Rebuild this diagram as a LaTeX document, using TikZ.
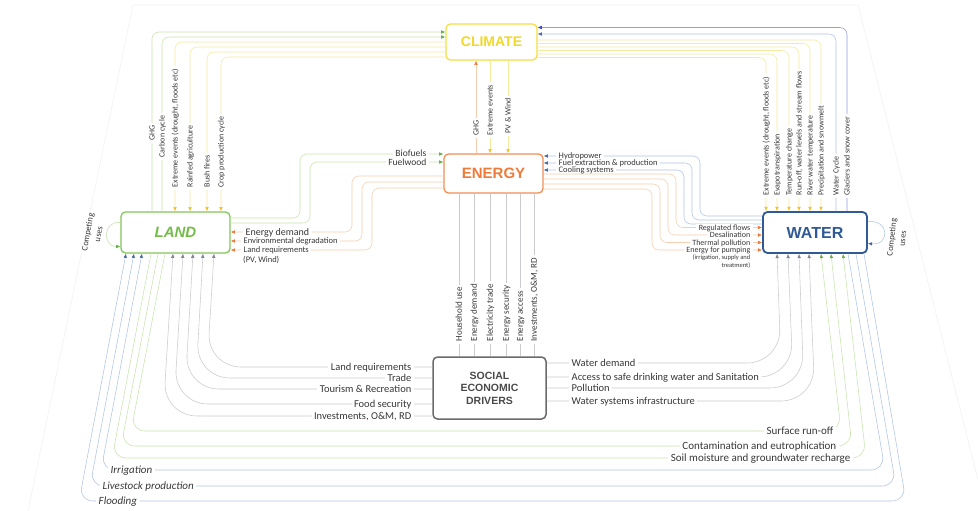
\documentclass[tikz,border=0pt]{standalone}
\usepackage{fontspec}
\setmainfont{Carlito}
\newfontfamily\boxfont{Liberation Sans}
\usetikzlibrary{arrows.meta,calc}
\definecolor{lineY}{HTML}{F5EBA0}
\definecolor{tipY}{HTML}{F6C21C}
\definecolor{lineO}{HTML}{F6CDAE}
\definecolor{tipO}{HTML}{F0783A}
\definecolor{lineB}{HTML}{B0C6E4}
\definecolor{tipB}{HTML}{45689F}
\definecolor{lineG}{HTML}{C8E4AE}
\definecolor{tipG}{HTML}{63B043}
\definecolor{lineK}{HTML}{CBCBCF}
\definecolor{tipK}{HTML}{7A8190}
\definecolor{lineV}{HTML}{959BE4}
\definecolor{tipV}{HTML}{2E3CCB}
\definecolor{climC}{HTML}{F3DF45}
\definecolor{climT}{HTML}{F1D82A}
\definecolor{enC}{HTML}{F08E55}
\definecolor{enT}{HTML}{EE7B3A}
\definecolor{landC}{HTML}{84C65A}
\definecolor{landT}{HTML}{74BC48}
\definecolor{waterC}{HTML}{2F5A96}
\definecolor{socC}{HTML}{6A6A6A}
\definecolor{socT}{HTML}{4A4A4A}
\definecolor{txt}{HTML}{383838}
\begin{document}
\begin{tikzpicture}[x=1pt,y=-1pt,
  ln/.style={line width=0.55pt},
  lnY/.style={ln,draw=lineY},
  lnO/.style={ln,draw=lineO},
  lnB/.style={ln,draw=lineB},
  lnG/.style={ln,draw=lineG},
  lnK/.style={ln,draw=lineK},
  lnV/.style={ln,draw=lineV},
  aY/.style={-{Latex[length=4.2pt,width=3.6pt,color=tipY]}},
  aO/.style={-{Latex[length=4.2pt,width=3.6pt,color=tipO]}},
  aB/.style={-{Latex[length=4.2pt,width=3.6pt,color=tipB]}},
  aG/.style={-{Latex[length=4.2pt,width=3.6pt,color=tipG]}},
  aK/.style={-{Latex[length=4.2pt,width=3.6pt,color=tipK]}},
  aV/.style={-{Latex[length=4.2pt,width=3.6pt,color=tipV]}},
  rc/.style={rounded corners=7pt},
  rcB/.style={rounded corners=34pt},
  rcM/.style={rounded corners=14pt},
  lbl/.style 2 args={font=\fontsize{#1}{#1}\selectfont, text=txt, fill=white,
     inner xsep=2.5pt, inner ysep=0.8pt, text height=#2pt, text depth=0pt},
  vlbl/.style 2 args={lbl={#1}{#2}, rotate=90, anchor=west},
  plain/.style 2 args={font=\fontsize{#1}{#2}\selectfont, text=txt, inner sep=0pt},
  box/.style={rounded corners=4.5pt, fill=white, inner sep=0pt},
]
\fill[white] (0,0) rectangle (978,511);
\useasboundingbox (0,0) rectangle (978,511);
% faint page outline
\draw[black!5, line width=0.6pt] (28,511) -- (133,5) -- (858,5) -- (978,480);

% ---------- main boxes ----------
\node[box, draw=climC, line width=1.3pt, minimum width=91pt, minimum height=36pt,
  text=climT, font=\boxfont\bfseries\fontsize{14}{14}\selectfont] (climate) at (491.5,42) {CLIMATE};
\node[box, draw=enC, line width=1.3pt, minimum width=99pt, minimum height=39pt,
  text=enT, font=\boxfont\bfseries\fontsize{15}{15}\selectfont] (energy) at (493.5,173.5) {ENERGY};
\node[box, draw=landC, line width=1.3pt, minimum width=109pt, minimum height=41pt,
  text=landT, font=\boxfont\bfseries\itshape\fontsize{15}{15}\selectfont] (land) at (175.5,232.5) {LAND};
\node[box, draw=waterC, line width=1.8pt, minimum width=104pt, minimum height=41pt,
  text=waterC, font=\boxfont\bfseries\fontsize{16}{16}\selectfont] (water) at (815,232.5) {WATER};
\node[box, draw=socC, line width=1.5pt, minimum width=113pt, minimum height=62pt, align=center,
  text=socT, font=\boxfont\bfseries\fontsize{10.5}{12.5}\selectfont] (social) at (489.5,388) {SOCIAL\\ECONOMIC\\DRIVERS};

% ---------- CLIMATE <-> LAND ----------
\draw[lnG,aG,rc] (152,0 |- land.north) -- (152,32) -- (climate.west |- 0,32);
\draw[lnG,aG,rc] (162,0 |- land.north) -- (162,37) -- (climate.west |- 0,37);
\draw[lnY,aY,rc] (climate.west |- 0,42) -- (175,42) -- (175,0 |- land.north);
\draw[lnY,aY,rc] (climate.west |- 0,47) -- (190,47) -- (190,0 |- land.north);
\draw[lnY,aY,rc] (climate.west |- 0,52) -- (207,52) -- (207,0 |- land.north);
\draw[lnY,aY,rc] (climate.west |- 0,57) -- (221,57) -- (221,0 |- land.north);

% ---------- CLIMATE <-> ENERGY ----------
\draw[lnO,aO] (476,0 |- energy.north) -- (476,0 |- climate.south);
\draw[lnY,aY] (490,0 |- climate.south) -- (490,0 |- energy.north);
\draw[lnY,aY] (508,0 |- climate.south) -- (508,0 |- energy.north);

% ---------- LAND <-> ENERGY ----------
\draw[lnG,aG,rc] (land.east |- 0,218) -- (300,218) -- (300,154) -- (energy.west |- 0,154);
\draw[lnG,aG,rc] (land.east |- 0,223) -- (310,223) -- (310,162) -- (energy.west |- 0,162);
\draw[lnO,aO,rc] (energy.west |- 0,176) -- (352,176) -- (352,232) -- (land.east |- 0,232);
\draw[lnO,aO,rc] (energy.west |- 0,182) -- (362,182) -- (362,241) -- (land.east |- 0,241);
\draw[lnO,aO,rc] (energy.west |- 0,188) -- (372,188) -- (372,250) -- (land.east |- 0,250);

% ---------- ENERGY <-> WATER ----------
\draw[lnB,aB,rc] (water.west |- 0,216) -- (700,216) -- (700,156) -- (energy.east |- 0,156);
\draw[lnB,aB,rc] (water.west |- 0,220) -- (692,220) -- (692,163) -- (energy.east |- 0,163);
\draw[lnB,aB,rc] (water.west |- 0,224) -- (684,224) -- (684,170) -- (energy.east |- 0,170);
\draw[lnO,aO,rc] (energy.east |- 0,174) -- (676,174) -- (676,227.5) -- (water.west |- 0,227.5);
\draw[lnO,aO,rc] (energy.east |- 0,179) -- (668,179) -- (668,235) -- (water.west |- 0,235);
\draw[lnO,aO,rc] (energy.east |- 0,184) -- (660,184) -- (660,242.5) -- (water.west |- 0,242.5);
\draw[lnO,aO,rc] (energy.east |- 0,189) -- (652,189) -- (652,250) -- (water.west |- 0,250);

% ---------- CLIMATE <-> WATER ----------
\draw[lnY,aY,rc] (climate.east |- 0,57.5) -- (766,57.5) -- (766,0 |- water.north);
\draw[lnY,aY,rc] (climate.east |- 0,54) -- (777,54) -- (777,0 |- water.north);
\draw[lnY,aY,rc] (climate.east |- 0,50.5) -- (789,50.5) -- (789,0 |- water.north);
\draw[lnY,aY,rc] (climate.east |- 0,47) -- (799,47) -- (799,0 |- water.north);
\draw[lnY,aY,rc] (climate.east |- 0,43.5) -- (810,43.5) -- (810,0 |- water.north);
\draw[lnY,aY,rc] (climate.east |- 0,40) -- (821,40) -- (821,0 |- water.north);
\draw[lnB,aB,rc] (836,0 |- water.north) -- (836,34) -- (climate.east |- 0,34);
\draw[lnV,aV,rc] (847,0 |- water.north) -- (847,27.5) -- (climate.east |- 0,27.5);

% ---------- ENERGY -- SOCIAL ----------
\draw[lnK] (459,0 |- energy.south) -- (459,0 |- social.north);
\draw[lnK] (474,0 |- energy.south) -- (474,0 |- social.north);
\draw[lnK] (490,0 |- energy.south) -- (490,0 |- social.north);
\draw[lnK] (506,0 |- energy.south) -- (506,0 |- social.north);
\draw[lnK] (520,0 |- energy.south) -- (520,0 |- social.north);
\draw[lnK] (534,0 |- energy.south) -- (534,0 |- social.north);

% ---------- SOCIAL -> LAND ----------
\draw[lnK,aK,rcB] (social.west |- 0,367) -- (207,367) -- (214,0 |- land.south);
\draw[lnK,aK,rcB] (social.west |- 0,378) -- (196,378) -- (203,0 |- land.south);
\draw[lnK,aK,rcB] (social.west |- 0,389) -- (185,389) -- (193,0 |- land.south);
\draw[lnK,aK,rcB] (social.west |- 0,404) -- (174,404) -- (183,0 |- land.south);
\draw[lnK,aK,rcB] (social.west |- 0,416) -- (163,416) -- (173,0 |- land.south);

% ---------- SOCIAL -> WATER ----------
\draw[lnK,aK,rcB] (social.east |- 0,363) -- (781,363) -- (777,0 |- water.south);
\draw[lnK,aK,rcB] (social.east |- 0,377) -- (793,377) -- (788,0 |- water.south);
\draw[lnK,aK,rcB] (social.east |- 0,388) -- (804,388) -- (799,0 |- water.south);
\draw[lnK,aK,rcB] (social.east |- 0,401) -- (815,401) -- (809,0 |- water.south);

% ---------- LAND -> WATER ----------
\draw[lnG,aG,rcM] (165,0 |- land.south) -- (131,431) -- (841,431) -- (821,0 |- water.south);
\draw[lnG,aG,rcM] (158,0 |- land.south) -- (121,446) -- (852,446) -- (831,0 |- water.south);
\draw[lnG,aG,rcM] (151,0 |- land.south) -- (112,458) -- (866,458) -- (843,0 |- water.south);

% ---------- WATER -> LAND ----------
\draw[lnB,aB,rcM] (848,0 |- water.south) -- (885,470) -- (101,470) -- (142,0 |- land.south);
\draw[lnB,aB,rcM] (856,0 |- water.south) -- (896,486) -- (90,486) -- (134,0 |- land.south);
\draw[lnB,aB,rcM] (864,0 |- water.south) -- (906,501) -- (79,501) -- (126,0 |- land.south);

% ---------- competing uses loops ----------
\draw[lnB,aB] ($(water.east)+(0,-11)$) .. controls ($(water.east)+(22,-13)$) and ($(water.east)+(22,13)$) .. ($(water.east)+(0,11)$);
\draw[lnG,aG] ($(land.west)+(0,-10)$) .. controls ($(land.west)+(-18,-12)$) and ($(land.west)+(-18,14)$) .. ($(land.west)+(0,14)$);
\node[plain={8.5}{11}, rotate=84, align=center] (cuW) at (897,238) {Competing\\uses};
\node[plain={8.5}{11}, rotate=80, align=center] (cuL) at (93,233) {Competing\\uses};

% ---------- labels: LAND top ----------
\node[vlbl={8}{5}] (l1) at (152,143) {GHG};
\node[vlbl={8}{5}] (l2) at (162,160) {Carbon cycle};
\node[vlbl={8}{5}] (l3) at (175,190) {Extreme events (drought, floods etc)};
\node[vlbl={8}{5}] (l4) at (190,190) {Rainfed agriculture};
\node[vlbl={8}{5}] (l5) at (207,190) {Bush fires};
\node[vlbl={8}{5}] (l6) at (221,190) {Crop production cycle};

% ---------- labels: ENERGY top ----------
\node[vlbl={8}{5}] (e1) at (476,138) {GHG};
\node[vlbl={8}{5}] (e2) at (490,138) {Extreme events};
\node[vlbl={8}{5}] (e3) at (508,136) {PV \& Wind};

% ---------- labels: LAND <-> ENERGY ----------
\node[lbl={9.5}{6}, anchor=east] (b1) at (429,154) {Biofuels};
\node[lbl={9.5}{6}, anchor=east] (b2) at (429,162) {Fuelwood};
\node[lbl={10}{6}, anchor=west] (d1) at (243,232) {Energy demand};
\node[lbl={8.5}{5}, anchor=west] (d2) at (241,241) {Environmental degradation};
\node[lbl={8.5}{5}, anchor=west] (d3) at (241,250) {Land requirements};
\node[plain={8.5}{9}, anchor=west] (d3b) at (243,259.5) {(PV, Wind)};

% ---------- labels: ENERGY <-> WATER ----------
\node[lbl={8.5}{5}, anchor=west] (h1) at (556,156) {Hydropower};
\node[lbl={8.5}{5}, anchor=west] (h2) at (556,163) {Fuel extraction \& production};
\node[lbl={8.5}{5}, anchor=west] (h3) at (556,170) {Cooling systems};
\node[lbl={8}{5}, anchor=east] (r1) at (753,227.5) {Regulated flows};
\node[lbl={8}{5}, anchor=east] (r2) at (753,235) {Desalination};
\node[lbl={8}{5}, anchor=east] (r3) at (753,242.5) {Thermal pollution};
\node[lbl={8}{5}, anchor=east] (r4) at (753,250) {Energy for pumping};
\node[plain={6.5}{7.5}, anchor=north east, align=right] (r4b) at (750.5,255) {(irrigation, supply and\\treatment)};

% ---------- labels: WATER top ----------
\node[vlbl={8}{5}] (w1) at (766,198) {Extreme events (drought, floods etc)};
\node[vlbl={8}{5}] (w2) at (777,198) {Evapotranspiration};
\node[vlbl={8}{5}] (w3) at (789,198) {Temperature change};
\node[vlbl={8}{5}] (w4) at (799,198) {Run-off, water levels and stream flows};
\node[vlbl={8}{5}] (w5) at (810,198) {River water temperature};
\node[vlbl={8}{5}] (w6) at (821,198) {Precipitation and snowmelt};
\node[vlbl={8}{5}] (w7) at (836,198) {Water Cycle};
\node[vlbl={8}{5}] (w8) at (847,198) {Glaciers and snow cover};

% ---------- labels: ENERGY -- SOCIAL ----------
\node[vlbl={9}{5.5}] (s1) at (459,344) {Household use};
\node[vlbl={9}{5.5}] (s2) at (474,344) {Energy demand};
\node[vlbl={9}{5.5}] (s3) at (490,344) {Electricity trade};
\node[vlbl={9}{5.5}] (s4) at (506,344) {Energy security};
\node[vlbl={9}{5.5}] (s5) at (520,344) {Energy access};
\node[vlbl={9}{5.5}] (s6) at (534,344) {Investments, O\&M, RD};

% ---------- labels: SOCIAL left/right ----------
\node[lbl={10.5}{6.5}, anchor=east] (sl1) at (414,367) {Land requirements};
\node[lbl={10.5}{6.5}, anchor=east] (sl2) at (414,378) {Trade};
\node[lbl={10.5}{6.5}, anchor=east] (sl3) at (414,389) {Tourism \& Recreation};
\node[lbl={10.5}{6.5}, anchor=east] (sl4) at (414,404) {Food security};
\node[lbl={10.5}{6.5}, anchor=east] (sl5) at (414,416) {Investments, O\&M, RD};
\node[lbl={10.5}{6.5}, anchor=west] (sr1) at (569,363) {Water demand};
\node[lbl={10.5}{6.5}, anchor=west] (sr2) at (569,377) {Access to safe drinking water and Sanitation};
\node[lbl={10.5}{6.5}, anchor=west] (sr3) at (569,388) {Pollution};
\node[lbl={10.5}{6.5}, anchor=west] (sr4) at (569,401) {Water systems infrastructure};

% ---------- labels: bottom ----------
\node[lbl={11}{7}, anchor=east] (g1) at (836,431) {Surface run-off};
\node[lbl={11}{7}, anchor=east] (g2) at (839,446) {Contamination and eutrophication};
\node[lbl={11}{7}, anchor=east] (g3) at (853,458) {Soil moisture and groundwater recharge};
\node[lbl={11}{7}, anchor=west, font=\itshape\fontsize{11}{11}\selectfont] (i1) at (108,470) {Irrigation};
\node[lbl={11}{7}, anchor=west, font=\itshape\fontsize{11}{11}\selectfont] (i2) at (100,486) {Livestock production};
\node[lbl={11}{7}, anchor=west, font=\itshape\fontsize{11}{11}\selectfont] (i3) at (96,501) {Flooding};
\end{tikzpicture}
\end{document}
